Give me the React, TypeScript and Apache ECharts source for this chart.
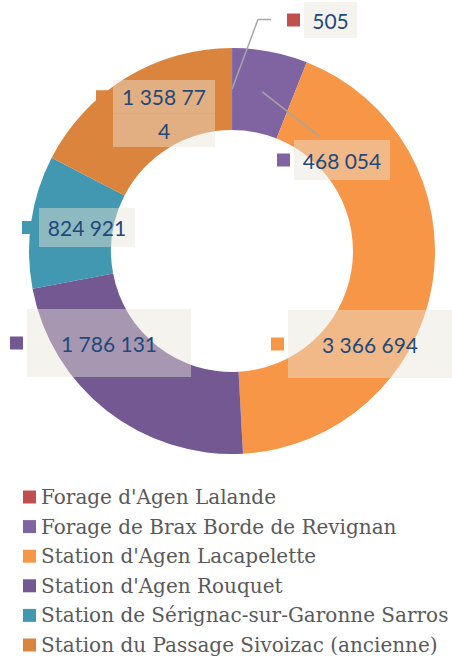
import React, { useEffect, useRef } from "react";
import * as echarts from "echarts";

const categories = [
  "Forage d'Agen Lalande",
  "Forage de Brax Borde de Revignan",
  "Station d'Agen Lacapelette",
  "Station d'Agen Rouquet",
  "Station de Sérignac-sur-Garonne Sarros",
  "Station du Passage Sivoizac (ancienne)",
];
const values = [505, 468054, 3366694, 1786131, 824921, 1358774];
const colors = ["#c0504d", "#8064a2", "#f79646", "#735892", "#4298b0", "#db843d"];

// label layout (style config): top-left of label block, box size, optional wrap and leader line offsets
const labelBoxes: any[] = [
  { x: 287, y: 2, w: 53, h: 36, line: [[-29, 17.5], [-16, 17.5]] },
  { x: 277, y: 140, w: 96, h: 40, line: [[43, -3]] },
  { x: 271, y: 310, w: 164, h: 68 },
  { x: 10, y: 309, w: 164, h: 68 },
  { x: 22, y: 208, w: 96, h: 39 },
  { x: 96, y: 80, w: 102, h: 67, wrap: 8 },
];

const CENTER = [232, 251];
const RADIUS = [121, 203];
const MARKER = 13;
const GAP = 4;

const fmt = (v: number) => String(v).replace(/\B(?=(\d{3})+(?!\d))/g, " ");

export default function App() {
  const ref = useRef<HTMLDivElement>(null);
  useEffect(() => {
    if (!ref.current) return;
    const chart = echarts.init(ref.current, null, { renderer: "svg" });
    const total = values.reduce((a, b) => a + b, 0);
    const anchors: number[][] = [];
    let cum = 0;
    values.forEach((v) => {
      const mid = cum + v / 2;
      cum += v;
      const ang = ((90 - (360 * mid) / total) * Math.PI) / 180;
      const r = (RADIUS[0] + RADIUS[1]) / 2;
      anchors.push([CENTER[0] + r * Math.cos(ang), CENTER[1] - r * Math.sin(ang)]);
    });

    const boxStyle = {
      backgroundColor: "rgba(232,228,214,0.45)",
      color: "#1f497d",
      fontFamily: "Lato",
      fontSize: 21,
      align: "center",
    };

    const data = values.map((v, i) => {
      const lb = labelBoxes[i];
      const txt = fmt(v);
      let formatter: string;
      const rich: any = {
        m: { width: MARKER, height: MARKER, backgroundColor: colors[i] },
        g: { width: GAP, height: MARKER },
        s: { width: MARKER + GAP, height: 1 },
      };
      if (lb.wrap) {
        const lines: string[] = [];
        for (let k = 0; k < txt.length; k += lb.wrap) lines.push(txt.slice(k, k + lb.wrap));
        const lh = lb.h / lines.length;
        lines.forEach((_, k) => {
          rich["b" + k] = { ...boxStyle, width: lb.w, height: lh, lineHeight: lh };
        });
        formatter = lines
          .map((l, k) => (k === 0 ? `{m|}{g|}{b${k}|${l}}` : `{s|}{b${k}|${l}}`))
          .join("\n");
      } else {
        rich.b = { ...boxStyle, width: lb.w, height: lb.h, lineHeight: lb.h };
        formatter = `{m|}{g|}{b|${txt}}`;
      }
      return {
        name: categories[i],
        value: v,
        label: { formatter, rich },
      };
    });

    // leader lines derived from slice mid-angle anchors and label positions
    const leaderLines: any[] = [];
    labelBoxes.forEach((lb, i) => {
      if (!lb.line) return;
      const pts = [anchors[i], ...lb.line.map((p: number[]) => [lb.x + p[0], lb.y + p[1]])];
      leaderLines.push({
        type: "polyline",
        z: 100,
        shape: { points: pts },
        style: { stroke: "#a6a6a6", lineWidth: 1.5, fill: null },
        silent: true,
      });
    });

    chart.setOption({
      animation: false,
      color: colors,
      legend: {
        orient: "vertical",
        left: 23,
        top: 485,
        height: 200,
        padding: 0,
        itemWidth: 13,
        itemHeight: 13,
        itemGap: 5.6,
        icon: "rect",
        selectedMode: false,
        textStyle: { fontFamily: "DejaVu Serif", fontSize: 20, color: "#595959", lineHeight: 24 },
        data: categories,
      },
      graphic: leaderLines,
      series: [
        {
          type: "pie",
          center: CENTER,
          radius: RADIUS,
          startAngle: 90,
          clockwise: true,
          avoidLabelOverlap: false,
          emphasis: { disabled: true },
          label: { show: true, position: "outside" },
          labelLine: { show: false },
          labelLayout: (params: any) => {
            const lb = labelBoxes[params.dataIndex];
            return { x: lb.x, y: lb.y, align: "left", verticalAlign: "top" };
          },
          data,
        },
      ],
    });
    return () => chart.dispose();
  }, []);
  return (
    <div
      ref={ref}
      style={{ position: "fixed", left: 0, top: 0, width: 452, height: 657, background: "#fff" }}
    />
  );
}
